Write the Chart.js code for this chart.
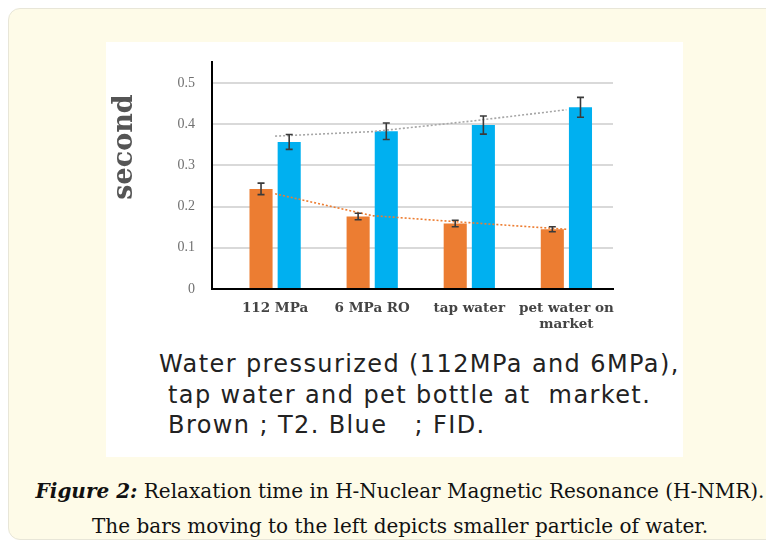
<!DOCTYPE html>
<html>
<head>
<meta charset="utf-8">
<script src="https://cdn.jsdelivr.net/npm/chart.js@4.4.1/dist/chart.umd.min.js"></script>
<style>
  html, body { margin: 0; padding: 0; background: #ffffff; }
  body { width: 766px; height: 546px; position: relative; overflow: hidden; }
  .box { position: absolute; left: 8px; top: 8px; width: 820px; height: 530px;
         background: #fefbe8; border: 1.5px solid #e8e6d8; border-radius: 12px; }
  .panel { position: absolute; left: 106px; top: 42px; width: 577px; height: 415px; background: #ffffff; }
  #wrap { position: absolute; left: 106px; top: 37px; width: 577px; height: 302px; }
  #wrap canvas { display: block; }
  .note { position: absolute; left: 159px; top: 349px; font-family: 'DejaVu Sans', sans-serif;
          font-size: 24px; line-height: 30.5px; color: #222; letter-spacing: 1.4px; white-space: pre; }
  .caption { position: absolute; left: 0; width: 800px; top: 474px; text-align: center;
             font-family: 'DejaVu Serif', serif;
             font-size: 20px; line-height: 35px; color: #111; }
  .caption b { font-style: italic; }
</style>
</head>
<body>
<div class="box"></div>
<div class="panel"></div>
<div id="wrap"><canvas id="c" width="577" height="302"></canvas></div>
<div class="note">Water pressurized (112MPa and 6MPa),
 tap water and pet bottle at  market.
 Brown ; T2. Blue   ; FID.</div>
<div class="caption"><b>Figure 2:</b> Relaxation time in H-Nuclear Magnetic Resonance (H-NMR).<br>The bars moving to the left depicts smaller particle of water.</div>
<script>
const categories = ['112 MPa', '6 MPa RO', 'tap water', ['pet water on', 'market']];
const t2Values  = [0.243, 0.176, 0.159, 0.145];
const t2Errors  = [0.014, 0.008, 0.008, 0.006];
const fidValues = [0.357, 0.383, 0.398, 0.441];
const fidErrors = [0.018, 0.020, 0.022, 0.024];
const t2Trend   = [0.231, 0.178, 0.161, 0.145];
const fidTrend  = [0.371, 0.382, 0.407, 0.435];
const yTicks    = [0, 0.1, 0.2, 0.3, 0.4, 0.5];
const yTitle    = 'second';

const pts = arr => arr.map((v, i) => ({ x: i, y: v }));

const errorBars = {
  id: 'errorBars',
  afterDatasetsDraw(chart) {
    const ctx = chart.ctx, ys = chart.scales.y;
    chart.data.datasets.forEach((ds, di) => {
      if (!ds.errors) return;
      const meta = chart.getDatasetMeta(di);
      meta.data.forEach((el, i) => {
        const v = ds.data[i].y, e = ds.errors[i];
        const yt = ys.getPixelForValue(v + e), yb = ys.getPixelForValue(v - e);
        ctx.save();
        ctx.strokeStyle = '#3a3a3a';
        ctx.lineWidth = 1.6;
        ctx.beginPath();
        ctx.moveTo(el.x, yt); ctx.lineTo(el.x, yb);
        ctx.moveTo(el.x - 3.5, yt); ctx.lineTo(el.x + 3.5, yt);
        ctx.moveTo(el.x - 3.5, yb); ctx.lineTo(el.x + 3.5, yb);
        ctx.stroke();
        ctx.restore();
      });
    });
  }
};

const axisTitle = {
  id: 'axisTitle',
  afterDraw(chart) {
    const ctx = chart.ctx;
    ctx.save();
    ctx.translate(19, 110);
    ctx.rotate(-Math.PI / 2);
    ctx.font = 'bold 27px "DejaVu Serif", serif';
    ctx.fillStyle = '#555555';
    ctx.textAlign = 'center';
    ctx.textBaseline = 'middle';
    ctx.fillText(yTitle, 0, 0);
    ctx.restore();
  }
};

new Chart(document.getElementById('c'), {
  data: {
    datasets: [
      { type: 'line', label: 'FID trend', data: pts(fidTrend), borderColor: '#a6a6a6', borderWidth: 1.6,
        borderDash: [2, 2], pointRadius: 0, fill: false, order: 0 },
      { type: 'line', label: 'T2 trend', data: pts(t2Trend), borderColor: '#ed7d31', borderWidth: 1.6,
        borderDash: [2, 2], pointRadius: 0, fill: false, order: 0 },
      { type: 'bar', label: 'T2', data: pts(t2Values), errors: t2Errors, backgroundColor: '#ec7d32',
        categoryPercentage: 0.58, barPercentage: 0.82, order: 1 },
      { type: 'bar', label: 'FID', data: pts(fidValues), errors: fidErrors, backgroundColor: '#00b0f0',
        categoryPercentage: 0.58, barPercentage: 0.82, order: 1 }
    ]
  },
  options: {
    responsive: false,
    animation: false,
    events: [],
    layout: { padding: { top: 15, right: 70, bottom: 0, left: 0 } },
    plugins: { legend: { display: false }, tooltip: { enabled: false } },
    scales: {
      x: {
        type: 'linear', min: -0.65, max: 3.48, offset: false,
        afterBuildTicks: axis => { axis.ticks = categories.map((c, i) => ({ value: i })); },
        afterFit: s => { s.height = 50; },
        grid: { display: false, offset: false },
        border: { color: '#000000', width: 2 },
        ticks: {
          autoSkip: false, maxRotation: 0, padding: 4, color: '#444444',
          font: { family: '"DejaVu Serif", serif', weight: 'bold', size: 13.5, lineHeight: 1.15 },
          callback: v => categories[v]
        }
      },
      y: {
        min: 0, max: 0.55,
        afterBuildTicks: axis => { axis.ticks = yTicks.map(v => ({ value: v })); },
        afterFit: s => { s.width = 106; },
        grid: { color: '#d9d9d9', lineWidth: 2, drawTicks: false },
        border: { color: '#000000', width: 2 },
        ticks: {
          padding: 17, color: '#707070',
          font: { family: '"Liberation Serif", serif', size: 14 },
          callback: v => String(v)
        }
      }
    }
  },
  plugins: [errorBars, axisTitle]
});
</script>
</body>
</html>
